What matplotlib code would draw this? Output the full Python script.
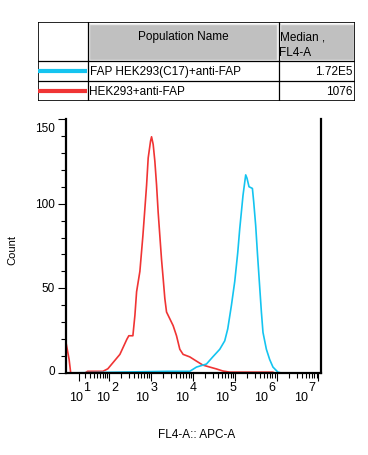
import numpy as np
import matplotlib
matplotlib.use("Agg")
import matplotlib.pyplot as plt
from matplotlib.patches import Rectangle
from matplotlib.ticker import FixedLocator, NullFormatter
import matplotlib.transforms as mtransforms

plt.rcParams['font.family'] = ['Liberation Sans', 'DejaVu Sans']

# histogram traces (FL4-A intensity, count)
red_x = [-11, -6, -3.5, 19.8, 25, 70, 93, 183, 270, 300, 375, 419, 460, 551, 650, 725,
         797, 870, 991, 1047, 1144, 1255, 1378, 1504, 1650, 1811, 1978, 2170, 2383,
         2856, 3420, 4120, 4940, 5920, 8550, 12340, 17430, 25600, 36900, 52200, 76600,
         809000, 900000, 1.15e7]
red_y = [18, 8, 0, 0, 1, 1, 2.5, 11, 20, 22, 22, 34, 48, 60, 81, 97,
         111, 127, 137, 139.5, 135, 125, 111, 95, 81, 67, 56, 44, 36,
         32, 28, 22, 14, 11, 9.5, 7, 4.7, 3.5, 2.4, 1.2, 0.5,
         0.5, 0, 0]
blue_x = [-11, 2560, 8550, 12340, 21340, 30160, 44270, 58200, 68600, 84100, 100800,
          118800, 132500, 158900, 184100, 197800, 220800, 266000, 285900, 318700,
          349900, 396500, 435700, 475400, 573000, 685700, 822500, 1081800, 1300000, 1.15e7]
blue_y = [0, 1, 1, 3.5, 5.3, 9.5, 14, 19, 26, 40, 54,
          71, 85, 105, 117, 115, 110, 109, 101, 87,
          71, 51, 36, 24, 14, 8, 3.5, 0.5, 0, 0]

populations = ["FAP HEK293(C17)+anti-FAP", "HEK293+anti-FAP"]
medians = ["1.72E5", "1076"]
colors = ["#14c4f0", "#f03434"]

decades = [1, 2, 3, 4, 5, 6, 7]
yticks = [0, 50, 100, 150]


def fwd(x):
    return np.arcsinh(np.asarray(x) / 28.0) / np.log(10)


def inv(u):
    return 28.0 * np.sinh(np.asarray(u) * np.log(10))


fig = plt.figure(figsize=(3.68, 4.56), dpi=100)

# ---- header table ----
tab = fig.add_axes([38 / 368, 1 - 102 / 456, (355 - 38) / 368, (102 - 23) / 456])
tab.set_xlim(38, 355)
tab.set_ylim(102, 23)
tab.axis('off')
for x0, x1 in [(88, 278), (279, 355)]:
    tab.add_patch(Rectangle((x0 + 1, 24.5), x1 - x0 - 2, 36, facecolor='#c0c0c0',
                            edgecolor='#ececec', lw=1))
tab.add_patch(Rectangle((38, 23), 317, 79, fill=False, edgecolor='black', lw=1.2))
tab.plot([87.5, 87.5], [23, 102], color='black', lw=0.9)
tab.plot([278.5, 278.5], [23, 102], color='black', lw=0.9)
tab.plot([38, 355], [62, 62], color='black', lw=0.9)
tab.plot([38, 355], [82, 82], color='black', lw=0.9)
tab.text(183, 37, "Population Name", ha='center', va='center', fontsize=8.5)
tab.text(279.5, 37, "Median ,", ha='left', va='center', fontsize=8.5)
tab.text(279.5, 53, "FL4-A", ha='left', va='center', fontsize=8.5)
for i, (name, med, c) in enumerate(zip(populations, medians, colors)):
    yc = 72 + 20 * i
    tab.plot([38, 87], [yc, yc], color=c, lw=3, solid_capstyle='butt')
    tab.text(89.5, yc, name, ha='left', va='center', fontsize=8.5)
    tab.text(353, yc, med, ha='right', va='center', fontsize=8.5)

# ---- histogram ----
ax = fig.add_axes([66 / 368, 1 - 374 / 456, (321 - 66) / 368, (374 - 120) / 456])
ax.set_xscale('function', functions=(fwd, inv))
ax.plot(red_x, red_y, color=colors[1], lw=1.2)
ax.plot(blue_x, blue_y, color=colors[0], lw=1.2)
ax.set_xlim(-11, 1.15e7)
ax.set_ylim(0, 150)

ax.spines['top'].set_visible(False)
for s in ['left', 'bottom', 'right']:
    ax.spines[s].set_linewidth(1.6)

ax.xaxis.set_major_locator(FixedLocator([10.0 ** k for k in decades]))
ax.xaxis.set_minor_locator(FixedLocator([m * 10.0 ** k for k in decades[:-1] for m in range(2, 10)]))
ax.xaxis.set_major_formatter(NullFormatter())
ax.xaxis.set_minor_formatter(NullFormatter())
ax.yaxis.set_major_locator(FixedLocator(yticks))
ax.yaxis.set_minor_locator(FixedLocator(np.arange(0, 151, 10)))
ax.yaxis.set_major_formatter(NullFormatter())
ax.tick_params(which='major', length=6, width=0.8)
ax.tick_params(which='minor', length=3.5, width=0.8)
ax.tick_params(axis='y', which='both', right=False)

# x tick labels: "10" with full-size exponent, FlowJo style
bt = mtransforms.blended_transform_factory(ax.transData, ax.transAxes)
for k in decades:
    dx = -1 - 2.4 * k
    t10 = mtransforms.offset_copy(bt, fig=fig, x=dx, y=0, units='dots')
    te = mtransforms.offset_copy(bt, fig=fig, x=dx + 11, y=0, units='dots')
    ax.text(10.0 ** k, -0.095, "10", transform=t10, ha='center', va='center', fontsize=9)
    ax.text(10.0 ** k, -0.055, str(k), transform=te, ha='center', va='center', fontsize=9)

# y tick labels
byt = mtransforms.blended_transform_factory(ax.transAxes, ax.transData)
for v in yticks:
    va = 'top' if v == yticks[-1] else 'center'
    yoff = -3 if v == yticks[-1] else (2 if v == 0 else 0)
    t = mtransforms.offset_copy(byt, fig=fig, x=-11, y=yoff, units='dots')
    ax.text(0, v, str(v), transform=t, ha='right', va=va, fontsize=8.5)

fig.text(12 / 368, 1 - 250 / 456, "Count", rotation=90, ha='center', va='center', fontsize=8)
fig.text(197 / 368, 1 - 435 / 456, "FL4-A:: APC-A", ha='center', va='center', fontsize=8.5)

fig.savefig("out.png", dpi=100)
